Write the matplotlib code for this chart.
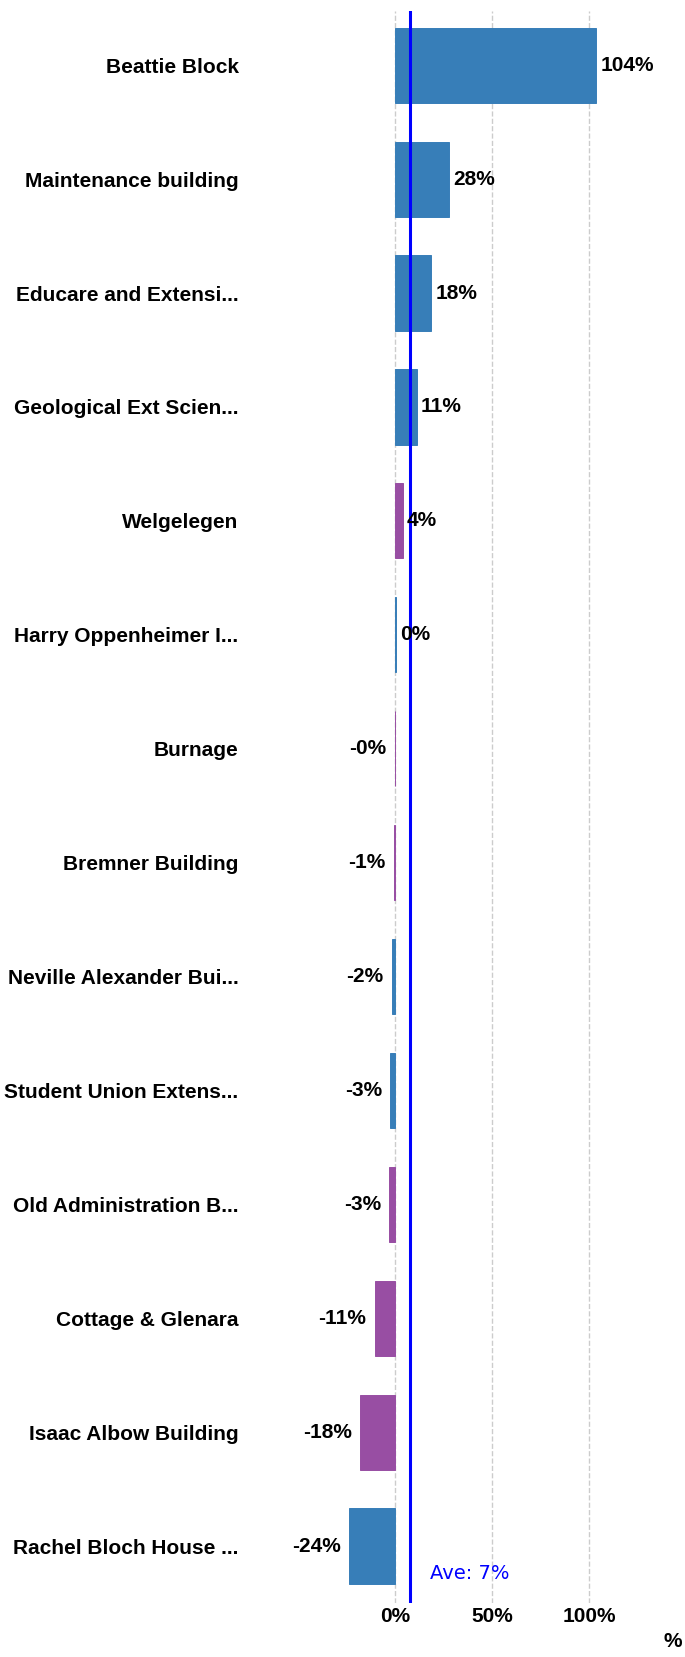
# horizontal bar chart of change per building, with average line

import matplotlib
matplotlib.use('Agg')
import matplotlib.pyplot as plt
import numpy as np

# buildings, top to bottom
buildings = ['Beattie Block', 'Maintenance building', 'Educare and Extensi...',
             'Geological Ext Scien...', 'Welgelegen', 'Harry Oppenheimer I...',
             'Burnage', 'Bremner Building', 'Neville Alexander Bui...',
             'Student Union Extens...', 'Old Administration B...',
             'Cottage & Glenara', 'Isaac Albow Building', 'Rachel Bloch House ...']

# percent change
values = [103.5, 27.5, 18.4, 11.0, 3.8, 0.3, -0.4, -0.8, -1.8, -2.6, -3.0,
          -10.6, -18.0, -24.0]

# bar group: 'a' blue, 'b' purple
groups = ['a', 'a', 'a', 'a', 'b', 'a', 'b', 'b', 'a', 'a', 'b', 'b', 'b', 'a']

x_ticks = [0, 50, 100]

colors = {'a': '#377eb8', 'b': '#984ea3'}
bold_font = 'Liberation Sans'
fs = 15

fig = plt.figure(figsize=(6.85, 16.57), dpi=100)
ax = fig.add_axes([0.478, 0.0326, 0.518, 0.961])

y = np.arange(len(buildings))
bar_colors = [colors[g] for g in groups]
# thin edge so the near-zero bars still show as a line
ax.barh(y, values, height=0.66, color=bar_colors, edgecolor=bar_colors,
        linewidth=0.7, zorder=2)

# value labels next to bar ends
for yi, v in zip(y, values):
    label = f'{v:.0f}%'
    if v >= 0:
        ax.annotate(label, (v, yi), xytext=(3, 0), textcoords='offset points',
                    ha='left', va='center', fontsize=fs, fontweight='bold',
                    family=bold_font, zorder=4)
    else:
        ax.annotate(label, (v, yi), xytext=(-6, 0), textcoords='offset points',
                    ha='right', va='center', fontsize=fs, fontweight='bold',
                    family=bold_font, zorder=4)

# average line
ave = np.mean(values)
ax.axvline(ave, color='blue', linewidth=2.2, zorder=3)
ax.text(ave + 10.3, 13.24, f'Ave: {ave:.0f}%', color='blue', fontsize=14,
        family='DejaVu Sans', ha='left', va='center')

ax.set_xlim(-35, 148)
ax.set_ylim(13.5, -0.48)
ax.set_xticks(x_ticks)
ax.set_xticklabels([f'{t}%' for t in x_ticks], fontsize=fs, fontweight='bold',
                   family=bold_font)
ax.set_yticks(y)
ax.set_yticklabels(buildings, fontsize=fs, fontweight='bold', family=bold_font)
ax.tick_params(axis='y', length=0, pad=64)
ax.tick_params(axis='x', length=0, pad=3)

ax.set_xlabel('%', fontsize=fs, fontweight='bold', family=bold_font)
ax.xaxis.set_label_coords(1.0, -0.018)
ax.xaxis.label.set_horizontalalignment('right')

ax.grid(axis='x', color='#cccccc', linestyle='--', linewidth=1, zorder=0)
ax.set_axisbelow(True)
for s in ax.spines.values():
    s.set_visible(False)

plt.savefig('out.png', dpi=100)
